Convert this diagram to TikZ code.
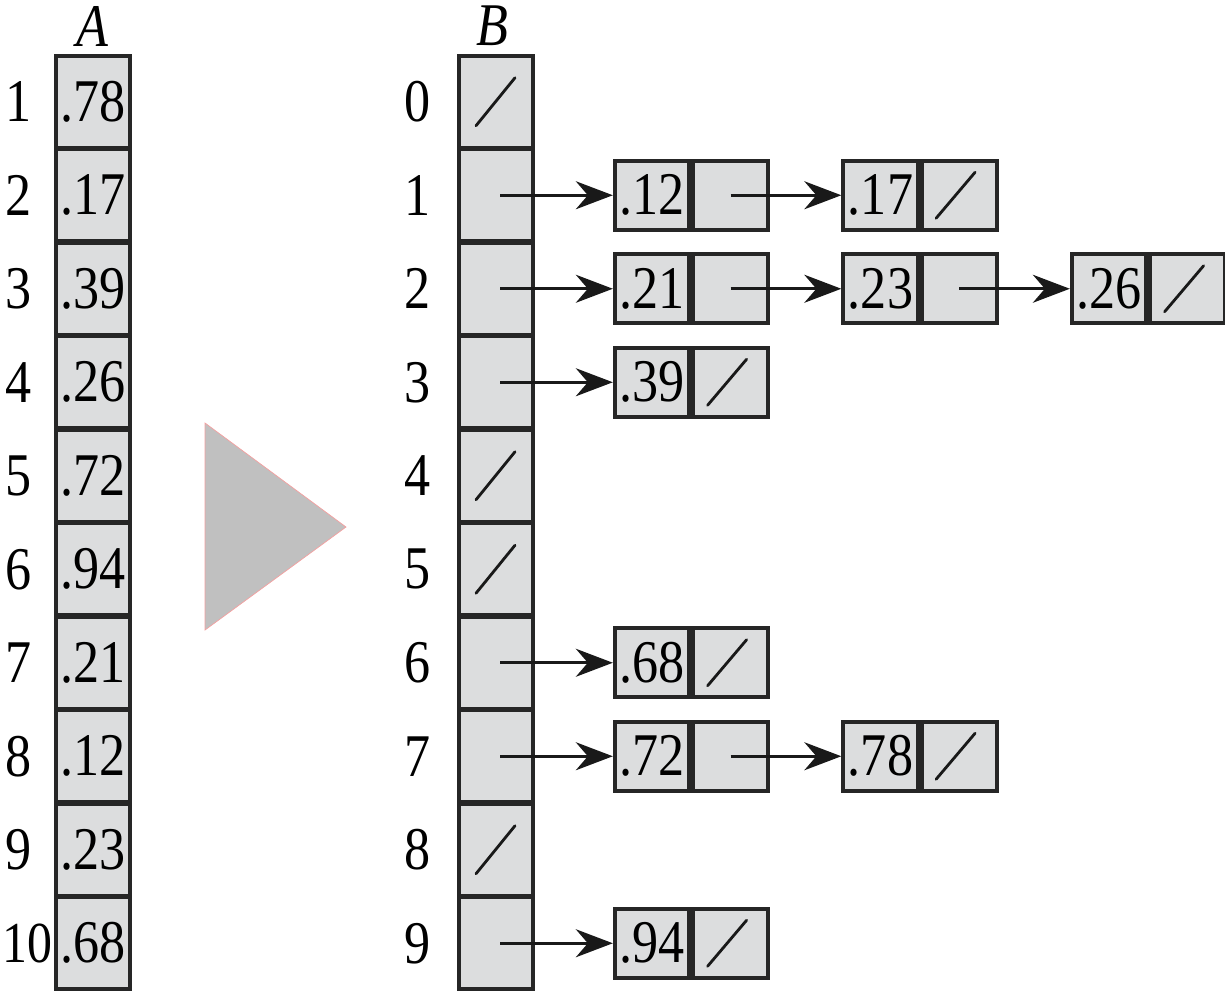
\documentclass[tikz,border=0pt]{standalone}
\usepackage{fontspec}
\setmainfont{Liberation Serif}[FakeStretch=0.86]
\usetikzlibrary{arrows.meta}
\definecolor{cellgray}{HTML}{DCDDDE}
\definecolor{pointgray}{HTML}{C0C0C0}
\definecolor{pointedge}{HTML}{F4A0A0}
\tikzset{
  cell/.style={draw=black!85,line width=2.2pt,fill=cellgray,inner sep=0pt,
    minimum width=1.48cm,minimum height=1.84cm,font=\fontsize{34.5}{34.5}\selectfont},
  keybox/.style={cell,minimum width=1.49cm,minimum height=1.38cm},
  ptrbox/.style={cell,minimum width=1.50cm,minimum height=1.38cm},
  idx/.style={inner sep=0pt,font=\fontsize{34.5}{34.5}\selectfont},
  link/.style={line width=1.5pt,black!90,-{Stealth[length=0.74cm,width=0.56cm]}},
  nil/.style={line width=1.6pt,black!90,line cap=round}
}

\begin{document}
\begin{tikzpicture}[x=0.02cm,y=-0.02cm]
            \useasboundingbox (0,0) rectangle (1225,992);
            % array A
            \node[idx] (tA) at (92,26) {\itshape A};
            \foreach \v [count=\i] in {.78,.17,.39,.26,.72,.94,.21,.12,.23,.68}
                \node[cell] (a\i) at (93,{101.75+93.5*(\i-1)}) {\v};
            \foreach \i in {1,...,9}
                \node[idx] (ia\i) at (19,{101.75+93.5*(\i-1)}) {\i};
            \node[idx,anchor=west,font=\fontsize{33}{33}\selectfont] (ia10) at (2,943.25) {10};
            % big arrow
            \fill[pointgray,draw=pointedge,line width=0.4pt] (205,423) -- (205,630) -- (346,527) -- cycle;
            % array B
            \node[idx] (tB) at (492,26) {\itshape B};
            \foreach \i in {0,...,9} {
                \node[cell] (b\i) at (496,{101.75+93.5*\i}) {};
                \node[idx] (ib\i) at (418,{101.75+93.5*\i}) {\i};
            }
            \foreach \i in {0,4,5,8}
                \draw[nil] ([shift={(-20,24)}]b\i.center) -- ([shift={(19,-24)}]b\i.center);
            % lists
            \foreach \r/\c/\v in {1/1/.12,1/2/.17,2/1/.21,2/2/.23,2/3/.26,3/1/.39,6/1/.68,7/1/.72,7/2/.78,9/1/.94} {
                \node[keybox] (k\r\c) at ({652+228.5*(\c-1)},{101.75+93.5*\r}) {\v};
                \node[ptrbox,anchor=west] (p\r\c) at (k\r\c.east) {};
            }
            \foreach \r in {1,2,3,6,7,9}
                \draw[link] ([shift={(4,0)}]b\r.center) -- (k\r1.west);
            \draw[link] (p11.center) -- (k12.west);
            \draw[link] (p21.center) -- (k22.west);
            \draw[link] (p22.center) -- (k23.west);
            \draw[link] (p71.center) -- (k72.west);
            \foreach \n in {12,23,31,61,72,91}
                \draw[nil] ([shift={(-23,23)}]p\n.center) -- ([shift={(16,-23)}]p\n.center);
        \end{tikzpicture}
\end{document}
